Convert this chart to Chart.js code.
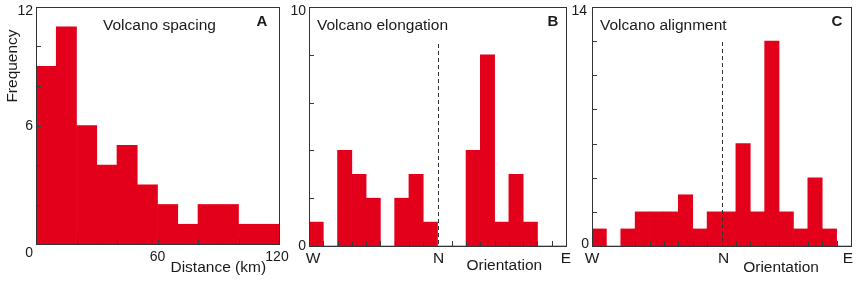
<!DOCTYPE html>
<html>
<head>
<meta charset="utf-8">
<script src="https://cdn.jsdelivr.net/npm/chart.js@4.4.1/dist/chart.umd.min.js"></script>
<style>
  html, body { margin: 0; padding: 0; background: #fff; }
  #wrap { position: relative; width: 856px; height: 281px; }
  #wrap canvas { position: absolute; left: 0; top: 0; }
</style>
</head>
<body>
<div id="wrap">
  <canvas id="chartA" width="856" height="281"></canvas>
  <canvas id="chartB" width="856" height="281"></canvas>
  <canvas id="chartC" width="856" height="281"></canvas>
</div>
<script>
// --- data ---
const distanceBins = ["0-10", "10-20", "20-30", "30-40", "40-50", "50-60",
  "60-70", "70-80", "80-90", "90-100", "100-110", "110-120"];
const spacingCounts = [9, 11, 6, 4, 5, 3, 2, 1, 2, 2, 1, 1];
const distanceTicks = [60, 120];

// orientation bins, 10 degrees each, W (-90) .. N (0) .. E (90)
const orientationBins = [-85, -75, -65, -55, -45, -35, -25, -15, -5,
  5, 15, 25, 35, 45, 55, 65, 75, 85];
const elongationCounts = [1, 0, 4, 3, 2, 0, 2, 3, 1, 0, 0, 4, 8, 1, 3, 1, 0, 0];
const alignmentCounts = [1, 0, 1, 2, 2, 2, 3, 1, 2, 2, 6, 2, 12, 2, 1, 4, 1, 0];
const orientationTicks = [["W", -90], ["N", 0], ["E", 90]];

const RED = "rgb(226, 0, 26)";
const FONT = '"Liberation Sans", Arial, sans-serif';
const W = 856, H = 281;

function txt(ctx, s, x, y, font, align) {
  ctx.font = font;
  ctx.textAlign = align || "center";
  ctx.textBaseline = "middle";
  ctx.fillStyle = "#1a1a1a";
  ctx.fillText(s, x, y);
}

// draws frame, inward ticks, labels and titles for one panel
const panelDecor = {
  id: "panelDecor",
  afterDatasetsDraw(chart, args, p) {
    const ctx = chart.ctx;
    const a = chart.chartArea;
    const y = chart.scales.y;
    const xv = chart.scales.xv;
    ctx.save();

    // inward ticks
    ctx.strokeStyle = "#3a3a3a";
    ctx.lineWidth = 1;
    ctx.beginPath();
    p.xTicks.forEach(v => {
      const px = Math.round(xv.getPixelForValue(v)) + 0.5;
      ctx.moveTo(px, a.bottom);
      ctx.lineTo(px, a.bottom - 5);
    });
    p.yTicks.forEach(v => {
      const py = Math.round(y.getPixelForValue(v)) + 0.5;
      ctx.moveTo(a.left, py);
      ctx.lineTo(a.left + 5, py);
    });
    ctx.stroke();

    // dashed north line
    if (p.dashTop) {
      const nx = Math.round(xv.getPixelForValue(0)) + 0.5;
      ctx.setLineDash([4, 3]);
      ctx.strokeStyle = "#333";
      ctx.beginPath();
      ctx.moveTo(nx, p.dashTop);
      ctx.lineTo(nx, a.bottom);
      ctx.stroke();
      ctx.setLineDash([]);
    }

    // frame
    ctx.strokeStyle = "#333";
    ctx.strokeRect(Math.round(a.left) + 0.5, Math.round(a.top) + 0.5,
      Math.round(a.right - a.left), Math.round(a.bottom - a.top));

    const num = "14px " + FONT;
    const lab = "15.5px " + FONT;
    // y tick labels
    txt(ctx, String(y.max), a.left - p.yLabDx, a.top + 4, num, "right");
    if (p.yMid) txt(ctx, String(p.yMid), a.left - 3, y.getPixelForValue(p.yMid) + 1, num, "right");
    txt(ctx, "0", a.left - 3, a.bottom + p.zeroDy, num, "right");

    // x tick labels
    p.xLabels.forEach(([s, v, dx, font]) => {
      txt(ctx, s, xv.getPixelForValue(v) + dx, a.bottom + p.xLabDy, font === "num" ? num : lab);
    });
    // axis titles
    txt(ctx, p.xTitle, a.left + (a.right - a.left) * p.xTitlePos, a.bottom + p.xTitleDy, lab);
    if (p.yTitle) {
      ctx.save();
      ctx.translate(13, 66);
      ctx.rotate(-Math.PI / 2);
      txt(ctx, p.yTitle, 0, 0, "15.5px " + FONT);
      ctx.restore();
    }
    // panel title and letter
    txt(ctx, p.title, a.left + p.titleDx, 26, "15.5px " + FONT, "left");
    txt(ctx, p.letter, a.right - p.letterDx, 22, "bold 15px " + FONT);
    ctx.restore();
  }
};

function makePanel(id, labels, counts, area, xMin, xMax, yMax, decor) {
  return new Chart(document.getElementById(id), {
    type: "bar",
    data: {
      labels: labels,
      datasets: [{
        data: counts,
        backgroundColor: RED,
        borderWidth: 0,
        barPercentage: 1,
        categoryPercentage: 1
      }]
    },
    options: {
      responsive: false,
      animation: false,
      layout: {
        padding: { left: area[0], top: area[1], right: W - area[2], bottom: H - area[3] }
      },
      plugins: { legend: { display: false }, tooltip: { enabled: false }, panelDecor: decor },
      scales: {
        x: { display: false },
        xv: { type: "linear", axis: "x", display: false, offset: false, min: xMin, max: xMax },
        y: { display: false, min: 0, max: yMax }
      }
    },
    plugins: [panelDecor]
  });
}

makePanel("chartA", distanceBins, spacingCounts, [36, 7, 279, 244], 0, 120, 12, {
  xTicks: [20, 40, 60, 80, 100],
  yTicks: [2, 4, 6, 8, 10],
  yMid: 6, yLabDx: 3, zeroDy: 9, xLabDy: 13,
  xLabels: distanceTicks.map(v => [String(v), v, v === 120 ? -2 : 0, "num"]),
  xTitle: "Distance (km)", xTitlePos: 0.75, xTitleDy: 24,
  yTitle: "Frequency",
  title: "Volcano spacing", titleDx: 67, letter: "A", letterDx: 17
});

makePanel("chartB", orientationBins, elongationCounts, [309, 7, 566, 246], -90, 90, 10, {
  xTicks: [-80, -70, -60, -50, -40, -30, -20, -10, 10, 20, 30, 40, 50, 60, 70, 80],
  yTicks: [2, 4, 6, 8],
  yLabDx: 3, zeroDy: 0, xLabDy: 13, dashTop: 44,
  xLabels: orientationTicks.map(([s, v]) => [s, v, v < 0 ? 4 : (v > 0 ? 0 : 1), "lab"]),
  xTitle: "Orientation", xTitlePos: 0.76, xTitleDy: 20,
  title: "Volcano elongation", titleDx: 8, letter: "B", letterDx: 13
});

makePanel("chartC", orientationBins, alignmentCounts, [592, 7, 851, 246], -90, 90, 14, {
  xTicks: [-60, -50, -40, -30, -20, -10, 10, 20, 30, 40, 50, 60, 70, 80],
  yTicks: [2, 4, 6, 8, 10, 12],
  yLabDx: 5, zeroDy: -2, xLabDy: 13, dashTop: 42,
  xLabels: orientationTicks.map(([s, v]) => [s, v, v < 0 ? 0 : (v > 0 ? -3 : 2), "lab"]),
  xTitle: "Orientation", xTitlePos: 0.73, xTitleDy: 22,
  title: "Volcano alignment", titleDx: 8, letter: "C", letterDx: 14
});
</script>
</body>
</html>
